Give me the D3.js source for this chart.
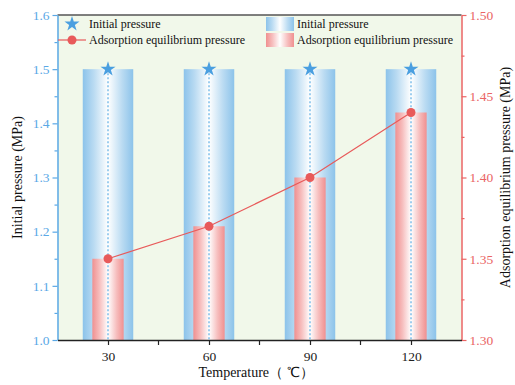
<!DOCTYPE html>
<html>
<head>
<meta charset="utf-8">
<script src="https://cdn.jsdelivr.net/npm/d3@7"></script>
<style>
  body { margin: 0; background: #fff; }
  text { font-family: "Liberation Serif", "Times New Roman", serif; }
</style>
</head>
<body>
<svg id="chart" width="515" height="385"></svg>
<script>
// Temperatures and pressures
const temperatures = ["30", "60", "90", "120"];
const initialPressure = [1.5, 1.5, 1.5, 1.5];           // MPa, left axis
const equilibriumPressure = [1.35, 1.37, 1.40, 1.44];   // MPa, right axis
const leftTicks = [1.0, 1.1, 1.2, 1.3, 1.4, 1.5, 1.6];
const rightTicks = [1.30, 1.35, 1.40, 1.45, 1.50];

const blue = "#8cc3ea", red = "#f09090";
const blueAxis = "#5aa8e6", redAxis = "#ea6464";

const svg = d3.select("#chart");
const m = { left: 57.5, right: 461.5, top: 15, bottom: 340 };

const x = d3.scalePoint().domain(temperatures).range([m.left, m.right]).padding(0.5);
const yL = d3.scaleLinear().domain([1.0, 1.6]).range([m.bottom, m.top]);
const yR = d3.scaleLinear().domain([1.30, 1.50]).range([m.bottom, m.top]);

// gradients
const defs = svg.append("defs");
function grad(id, c) {
  const g = defs.append("linearGradient").attr("id", id)
    .attr("x1", "0%").attr("x2", "100%").attr("y1", "0%").attr("y2", "0%");
  [[0, c], [0.22, d3.interpolateRgb(c, "#fff")(0.4)], [0.5, "#ffffff"],
   [0.78, d3.interpolateRgb(c, "#fff")(0.4)], [1, c]].forEach(([o, col]) =>
    g.append("stop").attr("offset", o).attr("stop-color", col));
}
grad("gBlue", blue);
grad("gRed", red);

// plot background
svg.append("rect").attr("x", m.left).attr("y", m.top)
  .attr("width", m.right - m.left).attr("height", m.bottom - m.top)
  .attr("fill", "#f1f8ea");

const step = x.step();
const wBlue = step * 0.5, wRed = step * 0.31;

// initial pressure bars
svg.selectAll(".bBlue").data(temperatures).join("rect")
  .attr("x", d => x(d) - wBlue / 2).attr("width", wBlue)
  .attr("y", (d, i) => yL(initialPressure[i]))
  .attr("height", (d, i) => yL(1.0) - yL(initialPressure[i]))
  .attr("fill", "url(#gBlue)");

// equilibrium pressure bars
svg.selectAll(".bRed").data(temperatures).join("rect")
  .attr("x", d => x(d) - wRed / 2).attr("width", wRed)
  .attr("y", (d, i) => yR(equilibriumPressure[i]))
  .attr("height", (d, i) => yR(1.30) - yR(equilibriumPressure[i]))
  .attr("fill", "url(#gRed)");

// dotted drop lines
svg.selectAll(".drop").data(temperatures).join("line")
  .attr("x1", d => x(d)).attr("x2", d => x(d))
  .attr("y1", (d, i) => yL(initialPressure[i])).attr("y2", m.bottom)
  .attr("stroke", "#7dbdea").attr("stroke-width", 1.5).attr("stroke-dasharray", "2,2");

// equilibrium line
const line = d3.line().x((d, i) => x(temperatures[i])).y(d => yR(d));
svg.append("path").datum(equilibriumPressure).attr("d", line)
  .attr("fill", "none").attr("stroke", "#e85a5a").attr("stroke-width", 1.2);
svg.selectAll(".dot").data(equilibriumPressure).join("circle")
  .attr("cx", (d, i) => x(temperatures[i])).attr("cy", d => yR(d))
  .attr("r", 4.5).attr("fill", "#e85a5a");

// stars
const star = d3.symbol().type(d3.symbolStar).size(70);
svg.selectAll(".star").data(initialPressure).join("path")
  .attr("d", star)
  .attr("transform", (d, i) => `translate(${x(temperatures[i])},${yL(d)})`)
  .attr("fill", "#4a9fe0");

// top frame
svg.append("line").attr("x1", m.left).attr("x2", m.right).attr("y1", m.top).attr("y2", m.top)
  .attr("stroke", "#555").attr("stroke-width", 1.5);

// axes
function styleAxis(g, color, size) {
  g.select(".domain").attr("stroke", color).attr("stroke-width", 1.5);
  g.selectAll(".tick line").attr("stroke", color).attr("stroke-width", 1.2);
  g.selectAll(".tick text").attr("fill", color)
    .style("font-family", "'Liberation Serif', serif").style("font-size", size + "px");
}

// left axis
const gL = svg.append("g").attr("transform", `translate(${m.left},0)`)
  .call(d3.axisLeft(yL).tickValues(leftTicks).tickFormat(d3.format(".1f")).tickSize(5).tickSizeOuter(0));
gL.append("g").call(d3.axisLeft(yL).tickValues(leftTicks.slice(0, -1).map(v => v + 0.05))
  .tickFormat("").tickSize(3)).select(".domain").remove();
styleAxis(gL, blueAxis, 13.5);

// right axis
const gR = svg.append("g").attr("transform", `translate(${m.right},0)`)
  .call(d3.axisRight(yR).tickValues(rightTicks).tickFormat(d3.format(".2f")).tickSize(5).tickSizeOuter(0));
gR.append("g").call(d3.axisRight(yR).tickValues(rightTicks.slice(0, -1).map(v => v + 0.025))
  .tickFormat("").tickSize(3)).select(".domain").remove();
styleAxis(gR, redAxis, 13.5);
gR.selectAll(".tick text").attr("x", 8);

// bottom axis
const gB = svg.append("g").attr("transform", `translate(0,${m.bottom})`)
  .call(d3.axisBottom(x).tickSize(5).tickSizeOuter(0).tickPadding(6));
const mids = temperatures.slice(0, -1).map((d, i) => (x(d) + x(temperatures[i + 1])) / 2);
gB.selectAll(".mid").data(mids).join("line")
  .attr("x1", d => d).attr("x2", d => d).attr("y1", 0).attr("y2", 5)
  .attr("stroke", "#222").attr("stroke-width", 1.2);
styleAxis(gB, "#222", 13.5);
gB.select(".domain").attr("stroke", "#222");

// axis titles
svg.append("text").attr("transform", `translate(22,${(m.top + m.bottom) / 2}) rotate(-90)`)
  .attr("text-anchor", "middle").style("font-size", "14px").attr("fill", "#111")
  .text("Initial pressure (MPa)");
svg.append("text").attr("transform", `translate(510,${(m.top + m.bottom) / 2}) rotate(-90)`)
  .attr("text-anchor", "middle").style("font-size", "14px").attr("fill", "#111")
  .text("Adsorption equilibrium pressure (MPa)");
svg.append("text").attr("x", 256).attr("y", 377)
  .attr("text-anchor", "middle").style("font-size", "14px").attr("fill", "#111")
  .text("Temperature（ ℃）");

// legend: markers
const lg = svg.append("g").style("font-size", "12px");
lg.append("path").attr("d", star).attr("transform", "translate(72,24)").attr("fill", "#4a9fe0");
lg.append("text").attr("x", 89).attr("y", 28).attr("fill", "#111").text("Initial pressure");
lg.append("line").attr("x1", 58).attr("x2", 86).attr("y1", 40).attr("y2", 40)
  .attr("stroke", "#e85a5a").attr("stroke-width", 1.2);
lg.append("circle").attr("cx", 72).attr("cy", 40).attr("r", 4.5).attr("fill", "#e85a5a");
lg.append("text").attr("x", 89).attr("y", 44).attr("fill", "#111").text("Adsorption equilibrium pressure");

// legend: bar swatches
lg.append("rect").attr("x", 266).attr("y", 17).attr("width", 28).attr("height", 14).attr("fill", "url(#gBlue)");
lg.append("text").attr("x", 297).attr("y", 28).attr("fill", "#111").text("Initial pressure");
lg.append("rect").attr("x", 266).attr("y", 33).attr("width", 28).attr("height", 14).attr("fill", "url(#gRed)");
lg.append("text").attr("x", 297).attr("y", 44).attr("fill", "#111").text("Adsorption equilibrium pressure");
</script>
</body>
</html>
